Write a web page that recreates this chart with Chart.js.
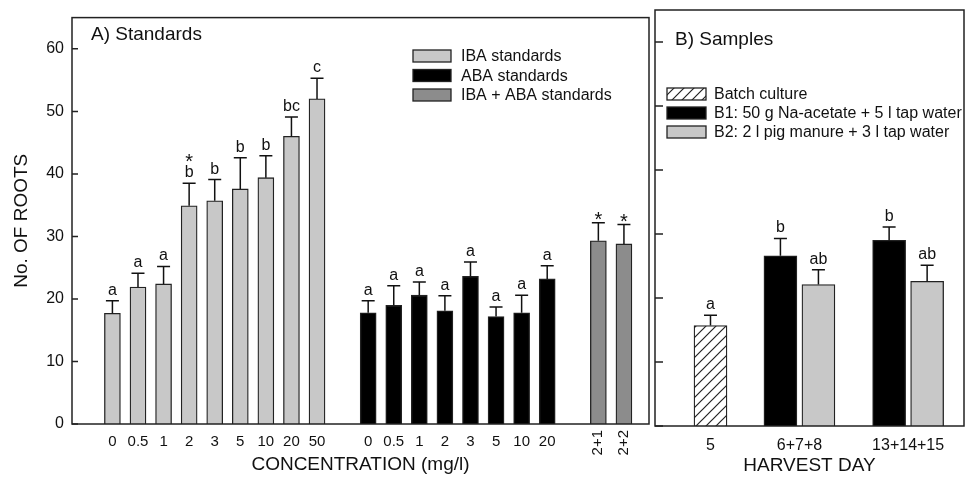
<!DOCTYPE html>
<html><head><meta charset="utf-8">
<script src="https://cdn.jsdelivr.net/npm/chart.js@4.4.1/dist/chart.umd.min.js"></script>
<style>
html,body{margin:0;padding:0;background:#fff;overflow:hidden;}
#wrap{position:relative;width:965px;height:477px;background:#fff;}
canvas{position:absolute;top:0;}
#cA{left:0}
#cB{left:652px}
</style></head><body>
<div id="wrap"><canvas id="cA" width="652" height="477"></canvas><canvas id="cB" width="313" height="477"></canvas></div>
<script>
// ---------- data ----------
const yTicks = [0, 10, 20, 30, 40, 50, 60];

// Panel A
const ibaLabels  = ['0', '0.5', '1', '2', '3', '5', '10', '20', '50'];
const ibaPos     = [0, 1, 2, 3, 4, 5, 6, 7, 8];
const ibaMeans   = [17.7, 21.9, 22.4, 34.9, 35.7, 37.6, 39.4, 46.0, 52.0];
const ibaErr     = [2.0, 2.2, 2.8, 3.6, 3.4, 5.0, 3.5, 3.1, 3.3];
const ibaLetters = ['a', 'a', 'a', 'b\n*', 'b', 'b', 'b', 'bc', 'c'];

const abaLabels  = ['0', '0.5', '1', '2', '3', '5', '10', '20'];
const abaPos     = [10, 11, 12, 13, 14, 15, 16, 17];
const abaMeans   = [17.8, 19.0, 20.6, 18.1, 23.6, 17.2, 17.8, 23.2];
const abaErr     = [1.9, 3.1, 2.1, 2.4, 2.3, 1.5, 2.8, 2.1];
const abaLetters = ['a', 'a', 'a', 'a', 'a', 'a', 'a', 'a'];

const mixLabels  = ['2+1', '2+2'];
const mixPos     = [19, 20];
const mixMeans   = [29.3, 28.8];
const mixErr     = [2.9, 3.1];
const mixLetters = ['*', '*'];

const legendA = ['IBA standards', 'ABA standards', 'IBA + ABA standards'];

// Panel B
const harvestDays  = ['5', '6+7+8', '13+14+15'];
const groupPos     = [0, 2.34, 5.2];
const batchMeans   = [15.7, null, null];
const batchErr     = [1.6, null, null];
const batchLetters = ['a', null, null];
const b1Means      = [null, 26.6, 29.0];
const b1Err        = [null, 2.7, 2.1];
const b1Letters    = [null, 'b', 'b'];
const b2Means      = [null, 22.1, 22.6];
const b2Err        = [null, 2.3, 2.5];
const b2Letters    = [null, 'ab', 'ab'];
const legendB = ['Batch culture', 'B1: 50 g Na-acetate + 5 l tap water', 'B2: 2 l pig manure + 3 l tap water'];

// ---------- styles ----------
const FF = '"Liberation Sans", Arial, Helvetica, sans-serif';
const C_IBA = '#c8c8c8', C_ABA = '#000000', C_MIX = '#8c8c8c', C_B2 = '#c8c8c8';
const EDGE = '#222222';

function hatch() {
  const c = document.createElement('canvas');
  c.width = 10; c.height = 10;
  const g = c.getContext('2d');
  g.fillStyle = '#fff'; g.fillRect(0, 0, 10, 10);
  g.strokeStyle = '#222'; g.lineWidth = 1.2;
  g.beginPath();
  g.moveTo(-1, 11); g.lineTo(11, -1);
  g.moveTo(-1, 1); g.lineTo(1, -1);
  g.moveTo(9, 11); g.lineTo(11, 9);
  g.stroke();
  return document.getElementById('cB').getContext('2d').createPattern(c, 'repeat');
}
const HATCH = hatch();

function pts(pos, vals) {
  const out = [];
  pos.forEach((p, i) => { if (vals[i] !== null) out.push({x: p, y: vals[i]}); });
  return out;
}
function offsetPos(pos, d) { return pos.map(p => p + d); }

function drawLetterStack(ctx, x, yTop, txt) {
  const lines = txt.split('\n');
  const base = yTop - 6;
  lines.forEach((t, k) => {
    ctx.textAlign = 'center'; ctx.textBaseline = 'alphabetic';
    if (t === '*') {
      const center = (k === 0) ? yTop - 8 : base - 21 - (k - 1) * 12.5;
      ctx.font = '20px ' + FF;
      ctx.fillText('*', x, center + 11.6);
    } else {
      ctx.font = '16px ' + FF;
      ctx.fillText(t, x, base - k * 12.5);
    }
  });
}

const errPlugin = {
  id: 'errbars',
  afterDatasetsDraw(chart) {
    const ctx = chart.ctx, ys = chart.scales.y;
    ctx.save();
    chart.data.datasets.forEach((ds, di) => {
      const meta = chart.getDatasetMeta(di);
      meta.data.forEach((el, i) => {
        const v = ds.data[i].y, e = ds.errs[i];
        const yt = ys.getPixelForValue(v + e);
        ctx.strokeStyle = '#111'; ctx.lineWidth = 1.5;
        ctx.beginPath();
        ctx.moveTo(el.x, el.y); ctx.lineTo(el.x, yt);
        ctx.moveTo(el.x - 6.5, yt); ctx.lineTo(el.x + 6.5, yt);
        ctx.stroke();
        ctx.fillStyle = '#111';
        if (ds.letters[i]) drawLetterStack(ctx, el.x, yt, ds.letters[i]);
      });
    });
    ctx.restore();
  }
};

function framePlugin(tickLen, legendCfg, title) {
  return {
    id: 'frame',
    afterDraw(chart) {
      const ctx = chart.ctx, a = chart.chartArea, ys = chart.scales.y;
      ctx.save();
      ctx.strokeStyle = '#222'; ctx.lineWidth = 1.5;
      ctx.strokeRect(a.left, a.top, a.right - a.left, a.bottom - a.top);
      ctx.beginPath();
      yTicks.forEach(v => {
        const y = ys.getPixelForValue(v);
        ctx.moveTo(a.left, y); ctx.lineTo(a.left + tickLen, y);
      });
      ctx.stroke();
      // panel title
      ctx.fillStyle = '#111';
      ctx.font = '19px ' + FF; ctx.textAlign = 'left'; ctx.textBaseline = 'middle';
      ctx.fillText(title.text, title.x, title.y);
      // legend
      ctx.font = '16px ' + FF;
      legendCfg.items.forEach((it, k) => {
        const cy = legendCfg.y + k * legendCfg.step;
        ctx.fillStyle = it.fill;
        ctx.fillRect(legendCfg.x, cy - 6, legendCfg.w, 12);
        ctx.lineWidth = 1.3; ctx.strokeStyle = '#222';
        ctx.strokeRect(legendCfg.x, cy - 6, legendCfg.w, 12);
        ctx.fillStyle = '#111';
        ctx.textAlign = 'left'; ctx.textBaseline = 'middle';
        ctx.fillText(it.label, legendCfg.tx, cy + 1);
      });
      ctx.restore();
    }
  };
}

// x tick labels panel A
const xLabelsA = {
  id: 'xlabA',
  afterDraw(chart) {
    const ctx = chart.ctx, xs = chart.scales.x, a = chart.chartArea;
    ctx.save();
    ctx.fillStyle = '#111';
    ctx.font = '15px ' + FF; ctx.textAlign = 'center'; ctx.textBaseline = 'alphabetic';
    ibaLabels.forEach((t, i) => ctx.fillText(t, xs.getPixelForValue(ibaPos[i]), a.bottom + 22));
    abaLabels.forEach((t, i) => ctx.fillText(t, xs.getPixelForValue(abaPos[i]), a.bottom + 22));
    mixLabels.forEach((t, i) => {
      ctx.save();
      ctx.translate(xs.getPixelForValue(mixPos[i]), a.bottom + 6);
      ctx.rotate(-Math.PI / 2);
      ctx.textAlign = 'right'; ctx.textBaseline = 'middle';
      ctx.fillText(t, 0, 0);
      ctx.restore();
    });
    ctx.restore();
  }
};
const xLabelsB = {
  id: 'xlabB',
  afterDraw(chart) {
    const ctx = chart.ctx, xs = chart.scales.x, a = chart.chartArea;
    ctx.save();
    ctx.fillStyle = '#111';
    ctx.font = '16px ' + FF; ctx.textAlign = 'center'; ctx.textBaseline = 'alphabetic';
    harvestDays.forEach((t, i) => ctx.fillText(t, xs.getPixelForValue(groupPos[i]), a.bottom + 24));
    ctx.restore();
  }
};

function barDs(data, errs, letters, color, thick) {
  return {
    data, errs, letters,
    backgroundColor: color, borderColor: EDGE, borderWidth: 1.3,
    barThickness: thick, grouped: false, borderSkipped: 'bottom'
  };
}

// ---------- Chart A ----------
new Chart(document.getElementById('cA'), {
  type: 'bar',
  data: {
    datasets: [
      barDs(pts(ibaPos, ibaMeans), ibaErr, ibaLetters, C_IBA, 16),
      barDs(pts(abaPos, abaMeans), abaErr, abaLetters, C_ABA, 16),
      barDs(pts(mixPos, mixMeans), mixErr, mixLetters, C_MIX, 16)
    ]
  },
  options: {
    responsive: false, animation: false, devicePixelRatio: 1,
    layout: {padding: {top: 9, right: 3, left: 0, bottom: 0}},
    plugins: {legend: {display: false}, tooltip: {enabled: false}},
    scales: {
      x: {
        type: 'linear', min: -1.58, max: 20.98, offset: false,
        ticks: {display: false}, grid: {display: false, drawTicks: false}, border: {display: false},
        title: {display: true, text: 'CONCENTRATION (mg/l)', color: '#111', font: {family: FF, size: 19}, padding: {top: 0, bottom: 1}},
        afterFit(s) { s.height = 53; }
      },
      y: {
        min: 0, max: 65,
        afterBuildTicks(s) { s.ticks = yTicks.map(v => ({value: v})); },
        ticks: {color: '#111', font: {family: FF, size: 16}, padding: 8},
        grid: {display: false, drawTicks: false}, border: {display: false},
        title: {display: true, text: 'No. OF ROOTS', color: '#111', font: {family: FF, size: 19}, padding: {top: 10, bottom: 0}},
        afterFit(s) { s.width = 72; }
      }
    }
  },
  plugins: [errPlugin, xLabelsA, framePlugin(6, {
    x: 413, w: 38, tx: 461, y: 56, step: 19.5,
    items: [{label: legendA[0], fill: C_IBA}, {label: legendA[1], fill: C_ABA}, {label: legendA[2], fill: C_MIX}]
  }, {text: 'A) Standards', x: 91, y: 35})]
});

// ---------- Chart B ----------
new Chart(document.getElementById('cB'), {
  type: 'bar',
  data: {
    datasets: [
      barDs(pts(groupPos, batchMeans), batchErr.filter(v => v !== null), batchLetters.filter(v => v !== null), HATCH, 33),
      barDs(pts(offsetPos(groupPos, -0.5), b1Means), b1Err.filter(v => v !== null), b1Letters.filter(v => v !== null), C_ABA, 33),
      barDs(pts(offsetPos(groupPos, 0.5), b2Means), b2Err.filter(v => v !== null), b2Letters.filter(v => v !== null), C_B2, 33)
    ]
  },
  options: {
    responsive: false, animation: false, devicePixelRatio: 1,
    layout: {padding: {top: 10, right: 1, left: 3, bottom: 0}},
    plugins: {legend: {display: false}, tooltip: {enabled: false}},
    scales: {
      x: {
        type: 'linear', min: -1.46, max: 6.67, offset: false,
        ticks: {display: false}, grid: {display: false, drawTicks: false}, border: {display: false},
        title: {display: true, text: 'HARVEST DAY', color: '#111', font: {family: FF, size: 19}, padding: {top: 0, bottom: 0}},
        afterFit(s) { s.height = 51; }
      },
      y: {
        min: 0, max: 65, display: false,
        afterBuildTicks(s) { s.ticks = yTicks.map(v => ({value: v})); }
      }
    }
  },
  plugins: [errPlugin, xLabelsB, framePlugin(8, {
    x: 15, w: 39, tx: 62, y: 94, step: 19,
    items: [{label: legendB[0], fill: HATCH}, {label: legendB[1], fill: C_ABA}, {label: legendB[2], fill: C_B2}]
  }, {text: 'B) Samples', x: 23, y: 40})]
});
</script>
</body></html>
